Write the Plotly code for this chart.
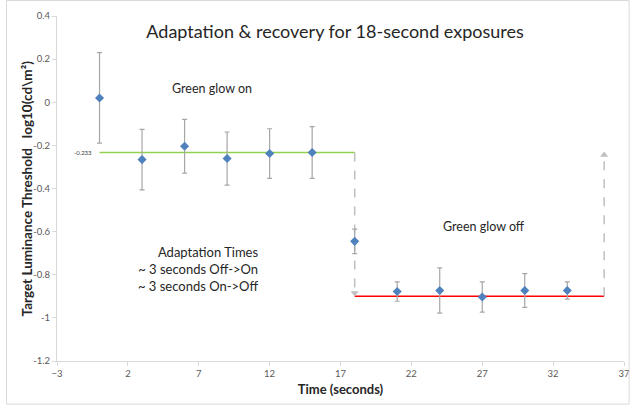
import plotly.graph_objects as go

# Data
time_s = [0, 3, 6, 9, 12, 15, 18, 21, 24, 27, 30, 33]
threshold = [0.02, -0.266, -0.204, -0.261, -0.238, -0.233, -0.645, -0.878, -0.873, -0.903, -0.873, -0.873]
err = [0.21, 0.14, 0.125, 0.123, 0.115, 0.12, 0.057, 0.045, 0.105, 0.07, 0.078, 0.04]

on_level_x = [0, 18]
on_level_y = [-0.233, -0.233]
off_level_x = [18, 35.6]
off_level_y = [-0.9, -0.9]

down_arrow_x = [18, 18]
down_arrow_y = [-0.233, -0.885]
up_arrow_x = [35.6, 35.6]
up_arrow_y = [-0.9, -0.245]

y_ticks = [-1.2, -1.0, -0.8, -0.6, -0.4, -0.2, 0, 0.2, 0.4]
y_ticklabels = ["-1.2", "-1", "-0.8", "-0.6", "-0.4", "-0.2", "0", "0.2", "0.4"]
x_ticks = [-3, 2, 7, 12, 17, 22, 27, 32, 37]

FONT = "Lato"
arrow_col = "#bfbfbf"

fig = go.Figure()

fig.add_trace(go.Scatter(x=on_level_x, y=on_level_y, mode="lines",
                         line=dict(color="#92d050", width=1.5), hoverinfo="skip"))
fig.add_trace(go.Scatter(x=off_level_x, y=off_level_y, mode="lines",
                         line=dict(color="#ff0000", width=1.5), hoverinfo="skip"))

fig.add_trace(go.Scatter(x=down_arrow_x, y=down_arrow_y, mode="lines",
                         line=dict(color=arrow_col, width=1.5, dash="dash")))
fig.add_trace(go.Scatter(x=[down_arrow_x[-1]], y=[down_arrow_y[-1]], mode="markers",
                         marker=dict(symbol="triangle-down", size=7, color=arrow_col)))
fig.add_trace(go.Scatter(x=up_arrow_x, y=up_arrow_y, mode="lines",
                         line=dict(color=arrow_col, width=1.5, dash="dash")))
fig.add_trace(go.Scatter(x=[up_arrow_x[-1]], y=[up_arrow_y[-1]], mode="markers",
                         marker=dict(symbol="triangle-up", size=7, color=arrow_col)))

fig.add_trace(go.Scatter(
    x=time_s, y=threshold, mode="markers",
    marker=dict(symbol="diamond", size=7, color="#4f81bd"),
    error_y=dict(type="data", array=err, visible=True, color="#a6a6a6",
                 thickness=1.2, width=2.5),
))

fig.add_annotation(x=on_level_x[0], y=on_level_y[0], text="-0.233", showarrow=False,
                   xanchor="right", xshift=-6, font=dict(family=FONT, size=6, color="#404040"))

fig.add_annotation(x=7.9, y=0.065, text="Green glow on",
                   showarrow=False, font=dict(family=FONT, size=12.5, color="#262626"))
fig.add_annotation(x=27.1, y=-0.575, text="Green glow off",
                   showarrow=False, font=dict(family=FONT, size=12.5, color="#262626"))
fig.add_annotation(x=11.3, y=-0.775,
                   text="Adaptation Times<br>~ 3 seconds Off-&gt;On<br>~ 3 seconds On-&gt;Off",
                   showarrow=False, align="right", xanchor="right",
                   font=dict(family=FONT, size=13, color="#262626"))

# y-axis title placed as rotated text
fig.add_annotation(x=-0.053, y=0.5, xref="paper", yref="paper",
                   text="<b>Target Luminance Threshold   log10(cd\\m²)</b>",
                   textangle=-90, showarrow=False, xanchor="center", yanchor="middle",
                   font=dict(family=FONT, size=13.5, color="#262626"))

fig.update_layout(
    width=631, height=405,
    margin=dict(l=57, r=7, t=16, b=44, autoexpand=False),
    paper_bgcolor="white", plot_bgcolor="white",
    showlegend=False,
    title=dict(text="Adaptation &amp; recovery for 18-second exposures",
               x=0.531, xanchor="center", y=0.922, yanchor="middle",
               font=dict(family=FONT, size=18, color="#262626")),
    font=dict(family=FONT, color="#595959"),
    shapes=[dict(type="rect", xref="paper", yref="paper", x0=-0.089, x1=1.009,
                 y0=-0.125, y1=1.045, line=dict(color="#d9d9d9", width=1))],
)

fig.update_xaxes(range=[-3, 37], tickvals=x_ticks, showgrid=False, zeroline=False,
                 showline=True, linecolor="#d9d9d9", ticks="outside", ticklen=4,
                 tickcolor="#d9d9d9", tickfont=dict(size=9.5, color="#595959"),
                 automargin=False,
                 title=dict(text="<b>Time (seconds)</b>", standoff=6,
                            font=dict(family=FONT, size=13, color="#262626")))
fig.update_yaxes(range=[-1.2, 0.4], tickvals=y_ticks, ticktext=y_ticklabels, showgrid=False,
                 zeroline=False, showline=True, linecolor="#d9d9d9", ticks="outside",
                 ticklen=4, tickcolor="#d9d9d9", tickfont=dict(size=9.5, color="#595959"),
                 automargin=False)

fig.write_html("out.html")
